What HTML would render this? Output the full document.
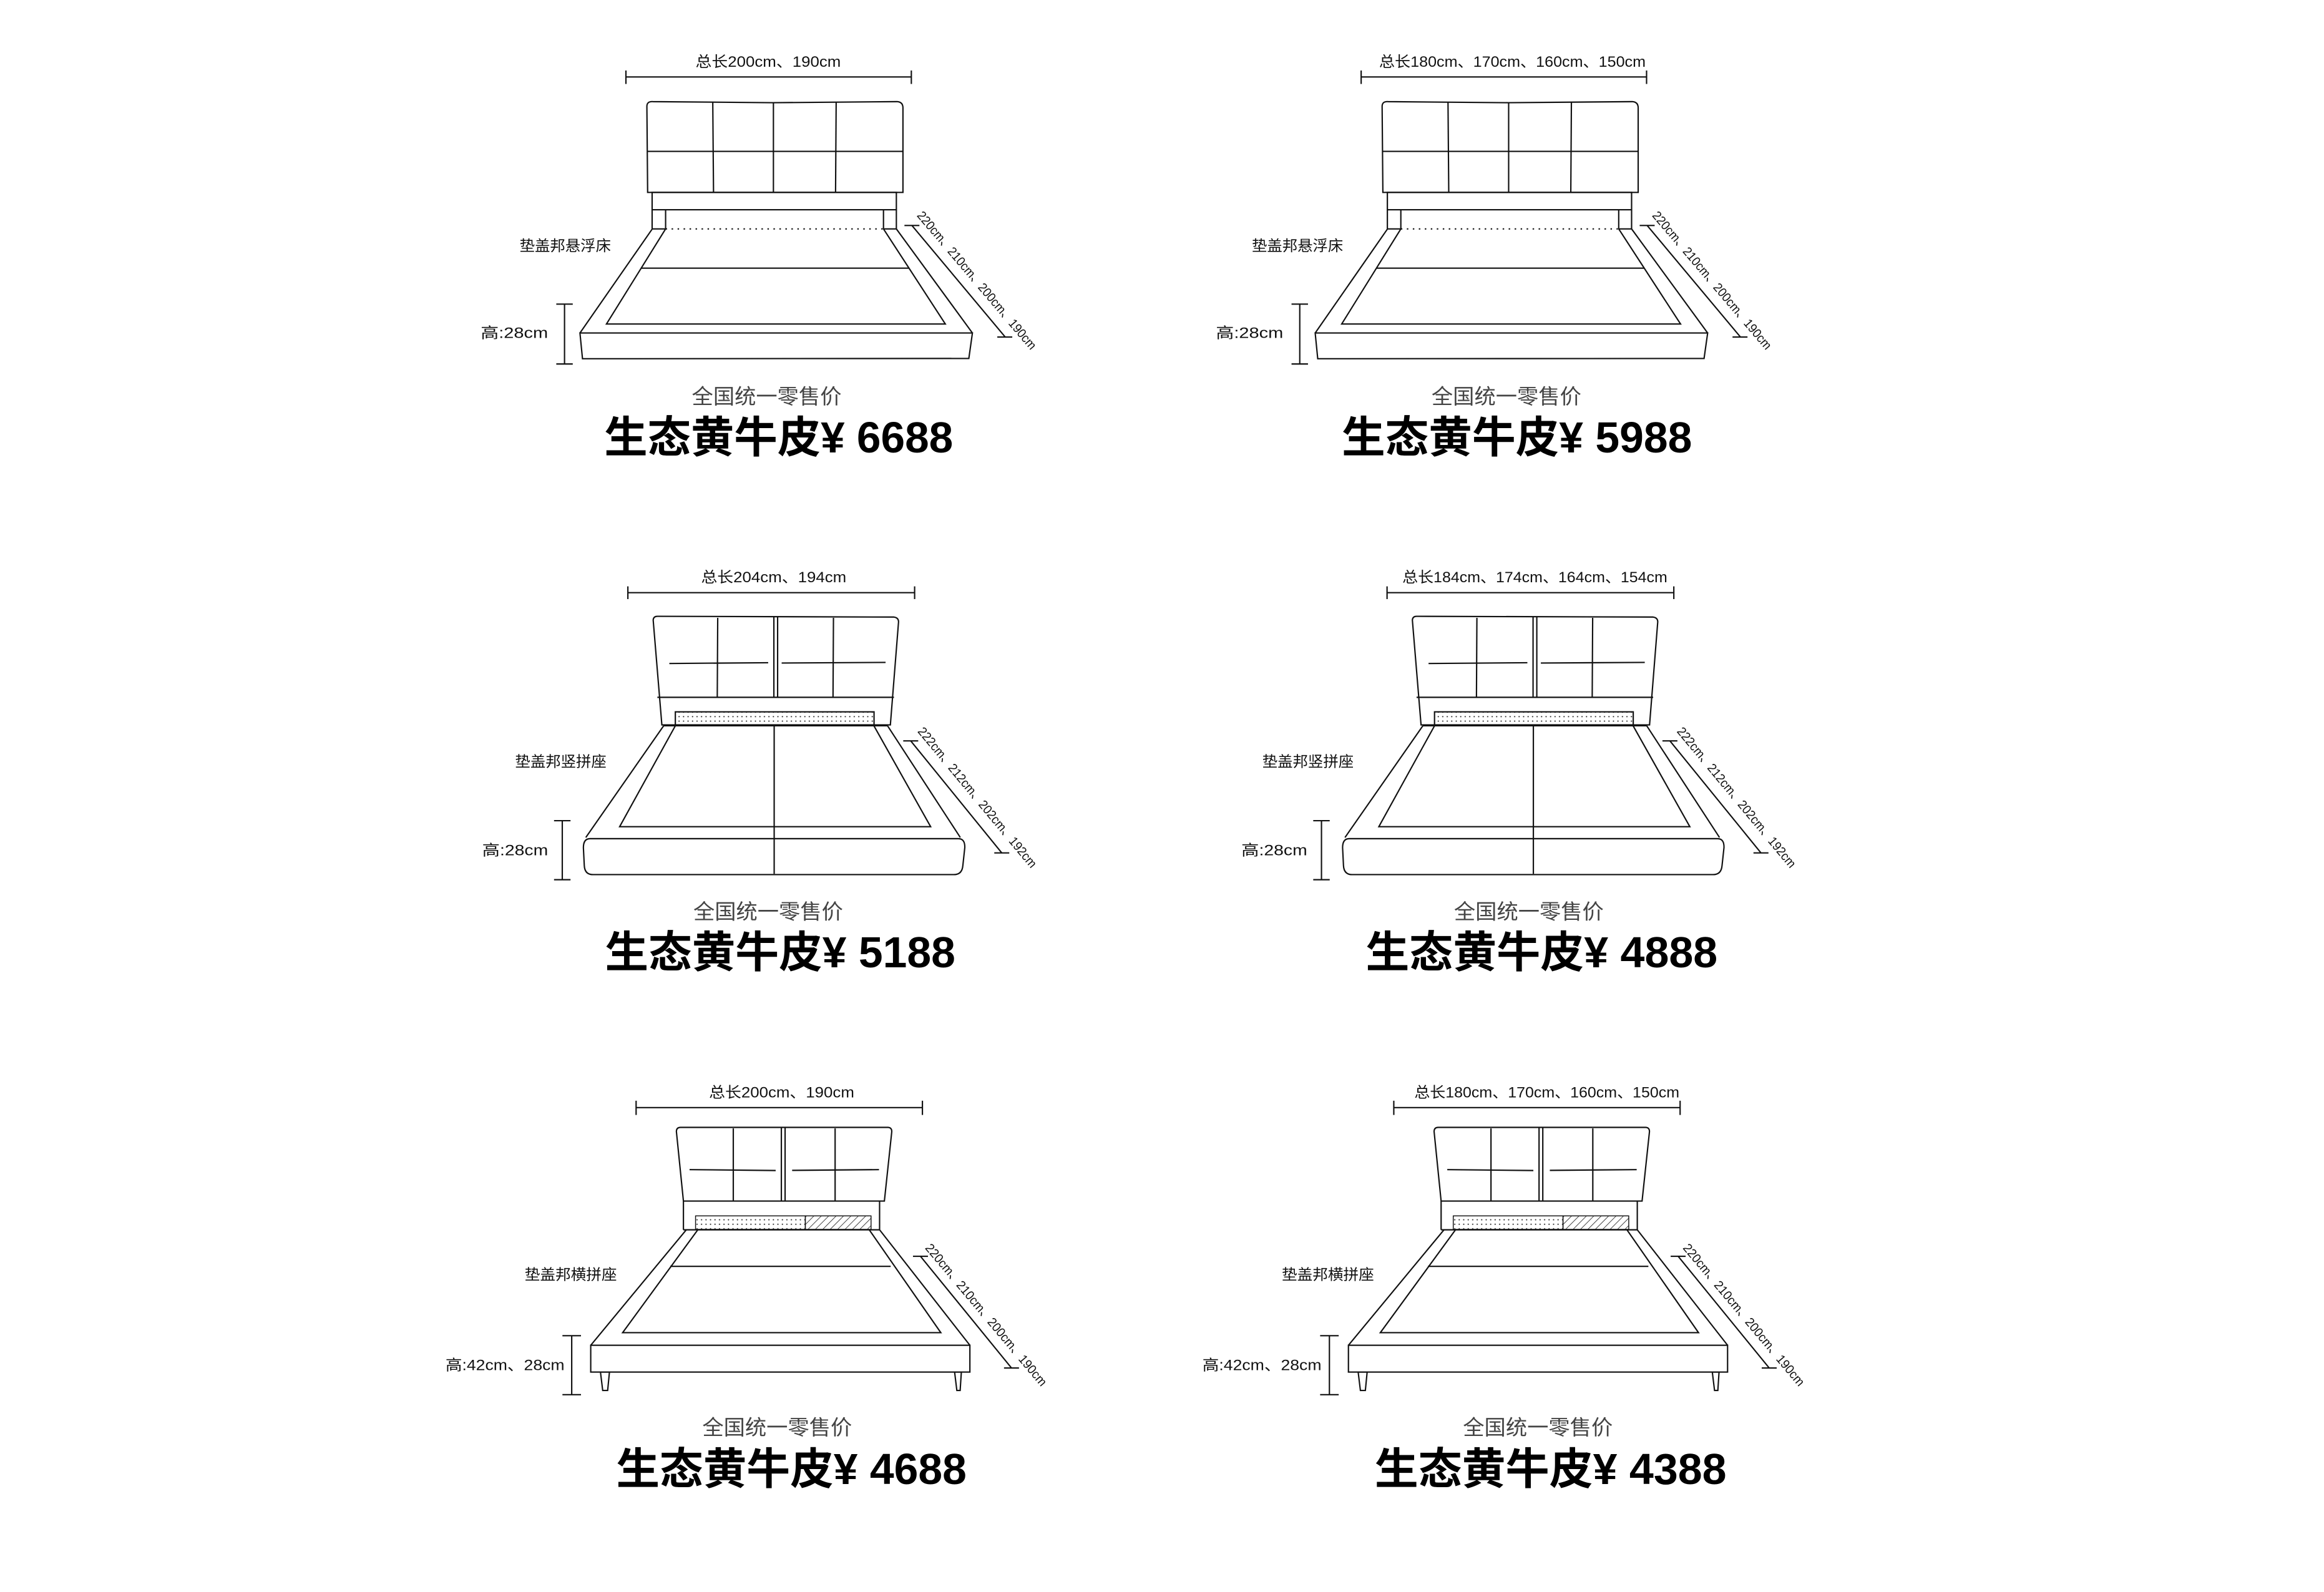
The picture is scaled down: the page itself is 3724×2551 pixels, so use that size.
<!DOCTYPE html>
<html><head><meta charset="utf-8"><style>
html,body{margin:0;padding:0;background:#fff;}
svg{display:block;}
text{font-family:"Liberation Sans","Noto Sans CJK SC",sans-serif;}
</style></head><body>
<svg width="3724" height="2551" viewBox="0 0 1552 1063" xmlns="http://www.w3.org/2000/svg">
<defs>
<pattern id="dots" width="3" height="3" patternUnits="userSpaceOnUse"><circle cx="1.5" cy="1.5" r="0.45" fill="#333"/></pattern>
<pattern id="hatch" width="3.5" height="3.5" patternUnits="userSpaceOnUse" patternTransform="rotate(45)"><line x1="0" y1="0" x2="0" y2="3.5" stroke="#222" stroke-width="0.7"/></pattern>

<g id="bedA" fill="none" stroke="#111" stroke-width="0.9">
<line x1="419" y1="51.3" x2="609.6" y2="51.3"/><line x1="419" y1="47" x2="419" y2="56"/><line x1="609.6" y1="47" x2="609.6" y2="56"/>
<path d="M433,71 Q433,67.5 437,67.8 L517,68.5 L600,67.8 Q604,68 604,72 L604,128.4 L433.5,128.4 Z"/>
<line x1="477" y1="68.5" x2="477.5" y2="128.4"/><line x1="517.5" y1="68.5" x2="517.5" y2="128.4"/><line x1="559.4" y1="68.5" x2="559" y2="128.4"/>
<line x1="433.5" y1="101" x2="604" y2="101"/>
<rect x="436.5" y="128.4" width="163.1" height="11.6"/>
<line x1="436.5" y1="140" x2="436.5" y2="152.8"/><line x1="599.6" y1="140" x2="599.6" y2="152.8"/>
<line x1="445.5" y1="140" x2="445.5" y2="152.8"/><line x1="591" y1="140" x2="591" y2="152.8"/>
<line x1="445.5" y1="152.8" x2="591" y2="152.8" stroke-dasharray="1 3"/>
<line x1="436.6" y1="152.8" x2="388.3" y2="222.3"/><line x1="599.6" y1="152.8" x2="650.4" y2="222.3"/>
<line x1="436.6" y1="152.8" x2="445.5" y2="152.8"/><line x1="591" y1="152.8" x2="599.6" y2="152.8"/>
<path d="M445.5,152.8 L406,216.3 L632.3,216.3 L591,152.8"/>
<line x1="429" y1="179" x2="608" y2="179"/>
<path d="M388.3,222.3 L650.4,222.3 L648,239.3 L390,239.5 Z"/>
<line x1="605" y1="150.5" x2="615" y2="150.5"/><line x1="610" y1="150.5" x2="672.3" y2="225"/><line x1="667" y1="225" x2="677" y2="225"/>
<line x1="378" y1="203" x2="378" y2="243"/><line x1="372.5" y1="203" x2="383.5" y2="203"/><line x1="372.5" y1="243" x2="383.5" y2="243"/>
</g>

<g id="bedB" fill="none" stroke="#111" stroke-width="0.9">
<line x1="420.3" y1="395.7" x2="611.8" y2="395.7"/><line x1="420.3" y1="391.5" x2="420.3" y2="400"/><line x1="611.8" y1="391.5" x2="611.8" y2="400"/>
<path d="M437.2,414 Q437.4,411.5 440,411.5 L598,412 Q601.5,412.5 601,416 L595.6,484 L443,484 Z"/>
<line x1="517.8" y1="411.8" x2="517.8" y2="465.6"/><line x1="520.3" y1="411.8" x2="520.3" y2="465.6"/>
<line x1="480.3" y1="412.5" x2="480" y2="465.6"/><line x1="557.6" y1="412.5" x2="557.3" y2="465.6"/>
<line x1="448" y1="443" x2="514" y2="442.5"/><line x1="523" y1="442.7" x2="592.4" y2="442.3"/>
<line x1="440" y1="465.6" x2="598" y2="465.6"/>
<rect x="452" y="475.3" width="132.7" height="8.7" fill="url(#dots)"/>
<line x1="444.2" y1="484.6" x2="593.7" y2="484.6"/>
<line x1="444.2" y1="484.6" x2="392.2" y2="559.2"/><line x1="593.7" y1="484.6" x2="642.3" y2="559.2"/>
<path d="M452,484.6 L414.8,552 L622.5,552 L584.6,484.6"/>
<line x1="518" y1="484.6" x2="518" y2="583.5"/>
<path d="M395,560 L641,560 Q645.5,560 645.3,566 L644,578 Q643.5,584 638,584 L397,584 Q391.5,584 391.2,578 L390.6,566 Q390.6,560 395,560 Z"/>
<line x1="604.2" y1="494.7" x2="614.2" y2="494.7"/><line x1="609.2" y1="494.7" x2="670" y2="569.5"/><line x1="665" y1="569.5" x2="675" y2="569.5"/>
<line x1="376.5" y1="548" x2="376.5" y2="587.4"/><line x1="371" y1="548" x2="382" y2="548"/><line x1="371" y1="587.4" x2="382" y2="587.4"/>
</g>

<g id="bedC" fill="none" stroke="#111" stroke-width="0.9">
<line x1="425.8" y1="739.6" x2="617" y2="739.6"/><line x1="425.8" y1="735" x2="425.8" y2="744.5"/><line x1="617" y1="735" x2="617" y2="744.5"/>
<path d="M452.7,755.5 Q452.8,752.8 455.5,752.8 L594,752.8 Q596.8,753 596.5,756 L591.6,802 L457.4,802 Z"/>
<line x1="522.8" y1="753" x2="522.8" y2="802"/><line x1="525.3" y1="753" x2="525.3" y2="802"/>
<line x1="490.7" y1="753.5" x2="490.7" y2="802"/><line x1="558.7" y1="753.5" x2="558.7" y2="802"/>
<line x1="461.5" y1="781" x2="519" y2="781.6"/><line x1="530" y1="781.5" x2="588" y2="781"/>
<line x1="457.4" y1="802" x2="457.4" y2="821.2"/><line x1="588.4" y1="802" x2="588.4" y2="821.2"/>
<rect x="465.5" y="811.9" width="73.3" height="9" fill="url(#dots)" stroke-width="0.6"/>
<rect x="538.8" y="811.9" width="43.9" height="9" fill="url(#hatch)" stroke-width="0.6"/>
<line x1="459.3" y1="821.2" x2="395.5" y2="898.3"/><line x1="588.4" y1="821.2" x2="648.7" y2="898.3"/>
<line x1="457.4" y1="821.2" x2="588.4" y2="821.2"/>
<path d="M467,821.2 L416.8,889.9 L629.3,889.9 L581.5,821.2"/>
<line x1="448.6" y1="845.6" x2="595.8" y2="845.6"/>
<rect x="395.5" y="898.3" width="253.2" height="17.9"/>
<path d="M402,916.2 L408,916.2 L406.8,928.5 L403.5,928.5 Z"/><path d="M638.5,916.2 L643,916.2 L642.2,928.5 L640,928.5 Z"/>
<line x1="610.7" y1="838.9" x2="620.7" y2="838.9"/><line x1="615.7" y1="838.9" x2="676.5" y2="913.5"/><line x1="671.5" y1="913.5" x2="681.5" y2="913.5"/>
<line x1="382.8" y1="891.9" x2="382.8" y2="931.3"/><line x1="376.6" y1="891.9" x2="389" y2="891.9"/><line x1="376.6" y1="931.3" x2="389" y2="931.3"/>
</g>
</defs>

<rect width="1552" height="1063" fill="#fff"/>

<use href="#bedA" transform="translate(-1,0)"/>
<use href="#bedA" transform="translate(490,0)"/>
<use href="#bedB" transform="translate(-1,0)"/>
<use href="#bedB" transform="translate(506,0)"/>
<use href="#bedC" transform="translate(-1,0)"/>
<use href="#bedC" transform="translate(505,0)"/>

<g fill="#111" font-size="10">
<text x="513" y="44.5" text-anchor="middle" textLength="97" lengthAdjust="spacingAndGlyphs">总长200cm、190cm</text>
<text x="1010" y="44.5" text-anchor="middle" textLength="178" lengthAdjust="spacingAndGlyphs">总长180cm、170cm、160cm、150cm</text>
<text x="347" y="167.5" textLength="61" lengthAdjust="spacingAndGlyphs">垫盖邦悬浮床</text>
<text x="836" y="167.5" textLength="61" lengthAdjust="spacingAndGlyphs">垫盖邦悬浮床</text>
<text x="321" y="225.5" textLength="45" lengthAdjust="spacingAndGlyphs">高:28cm</text>
<text x="812" y="225.5" textLength="45" lengthAdjust="spacingAndGlyphs">高:28cm</text>
<text font-size="8.5" transform="translate(612,144) rotate(49.7)" textLength="118" lengthAdjust="spacingAndGlyphs">220cm、210cm、200cm、190cm</text>
<text font-size="8.5" transform="translate(1103,144) rotate(49.7)" textLength="118" lengthAdjust="spacingAndGlyphs">220cm、210cm、200cm、190cm</text>

<text x="516.7" y="388.8" text-anchor="middle" textLength="97" lengthAdjust="spacingAndGlyphs">总长204cm、194cm</text>
<text x="1025" y="388.8" text-anchor="middle" textLength="177" lengthAdjust="spacingAndGlyphs">总长184cm、174cm、164cm、154cm</text>
<text x="344" y="512" textLength="61" lengthAdjust="spacingAndGlyphs">垫盖邦竖拼座</text>
<text x="843" y="512" textLength="61" lengthAdjust="spacingAndGlyphs">垫盖邦竖拼座</text>
<text x="322" y="571" textLength="44" lengthAdjust="spacingAndGlyphs">高:28cm</text>
<text x="829" y="571" textLength="44" lengthAdjust="spacingAndGlyphs">高:28cm</text>
<text font-size="8.5" transform="translate(612.5,488.5) rotate(50.3)" textLength="119" lengthAdjust="spacingAndGlyphs">222cm、212cm、202cm、192cm</text>
<text font-size="8.5" transform="translate(1119.5,488.5) rotate(50.3)" textLength="119" lengthAdjust="spacingAndGlyphs">222cm、212cm、202cm、192cm</text>

<text x="522" y="732.8" text-anchor="middle" textLength="97" lengthAdjust="spacingAndGlyphs">总长200cm、190cm</text>
<text x="1033" y="732.8" text-anchor="middle" textLength="177" lengthAdjust="spacingAndGlyphs">总长180cm、170cm、160cm、150cm</text>
<text x="350.4" y="854.5" textLength="61.6" lengthAdjust="spacingAndGlyphs">垫盖邦横拼座</text>
<text x="856" y="854.5" textLength="61.6" lengthAdjust="spacingAndGlyphs">垫盖邦横拼座</text>
<text x="297.5" y="915" textLength="79.5" lengthAdjust="spacingAndGlyphs">高:42cm、28cm</text>
<text x="803" y="915" textLength="79.5" lengthAdjust="spacingAndGlyphs">高:42cm、28cm</text>
<text font-size="8.5" transform="translate(617.5,833.5) rotate(50)" textLength="121" lengthAdjust="spacingAndGlyphs">220cm、210cm、200cm、190cm</text>
<text font-size="8.5" transform="translate(1123.5,833.5) rotate(50)" textLength="121" lengthAdjust="spacingAndGlyphs">220cm、210cm、200cm、190cm</text>
</g>

<g fill="#444" font-size="14" text-anchor="middle">
<text x="512" y="269.5" textLength="100" lengthAdjust="spacingAndGlyphs">全国统一零售价</text>
<text x="1006" y="269.5" textLength="100" lengthAdjust="spacingAndGlyphs">全国统一零售价</text>
<text x="513" y="613.5" textLength="100" lengthAdjust="spacingAndGlyphs">全国统一零售价</text>
<text x="1021" y="613.5" textLength="100" lengthAdjust="spacingAndGlyphs">全国统一零售价</text>
<text x="519" y="958" textLength="100" lengthAdjust="spacingAndGlyphs">全国统一零售价</text>
<text x="1027" y="958" textLength="100" lengthAdjust="spacingAndGlyphs">全国统一零售价</text>
</g>

<g fill="#000" font-size="29" font-weight="bold">
<text x="403.5" y="302" textLength="233" lengthAdjust="spacingAndGlyphs">生态黄牛皮¥ 6688</text>
<text x="896" y="302" textLength="234" lengthAdjust="spacingAndGlyphs">生态黄牛皮¥ 5988</text>
<text x="404" y="646" textLength="234" lengthAdjust="spacingAndGlyphs">生态黄牛皮¥ 5188</text>
<text x="912" y="646" textLength="235" lengthAdjust="spacingAndGlyphs">生态黄牛皮¥ 4888</text>
<text x="411.5" y="991" textLength="234" lengthAdjust="spacingAndGlyphs">生态黄牛皮¥ 4688</text>
<text x="918" y="991" textLength="235" lengthAdjust="spacingAndGlyphs">生态黄牛皮¥ 4388</text>
</g>
</svg>
</body></html>
